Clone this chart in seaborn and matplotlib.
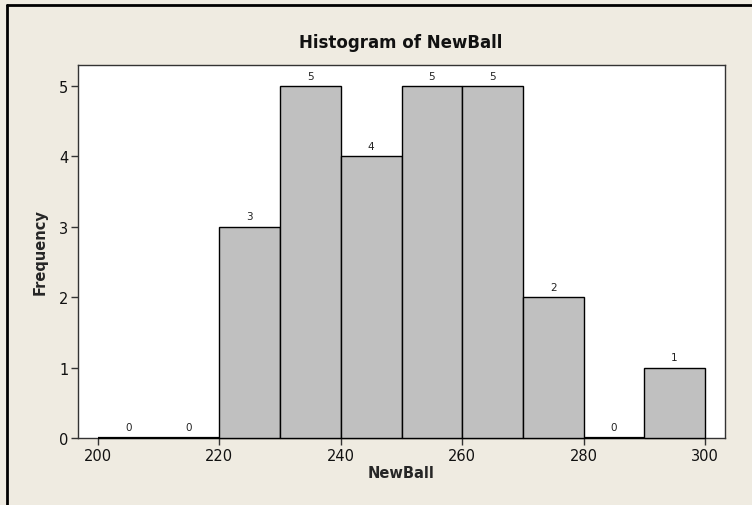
import numpy as np
import pandas as pd
import matplotlib
matplotlib.use("Agg")
import matplotlib.pyplot as plt
import seaborn as sns

# bin edges and counts
bin_edges = [200, 210, 220, 230, 240, 250, 260, 270, 280, 290, 300]
counts = [0, 0, 3, 5, 4, 5, 5, 2, 0, 1]
x_ticks = [200, 220, 240, 260, 280, 300]
y_ticks = [0, 1, 2, 3, 4, 5]

bg = "#EFEBE1"
bar_color = "#C0C0C0"

sns.set_theme(style="white")
plt.rcParams["font.family"] = ["DejaVu Sans"]

mids = [(a + b) / 2 for a, b in zip(bin_edges[:-1], bin_edges[1:])]
df = pd.DataFrame({"NewBall": mids, "count": counts})

fig = plt.figure(figsize=(7.52, 5.06), dpi=100, facecolor=bg)
ax = fig.add_axes([78 / 752, 1 - 439 / 506, (725 - 78) / 752, (439 - 66) / 506])
ax.set_facecolor("white")

sns.histplot(data=df, x="NewBall", weights="count", bins=bin_edges,
             color=bar_color, alpha=1, edgecolor="black", linewidth=1.0, ax=ax)

# keep bar outlines above the spines so empty bins show a dark baseline
for p, c in zip(ax.containers[0], counts):
    p.set_zorder(3)
    p.set_clip_on(False)
    if c == 0:
        p.set_linewidth(1.6)

# count labels above each bar
ax.bar_label(ax.containers[0], labels=[str(c) for c in counts],
             padding=4, fontsize=7.5, color="#222222")

ax.set_xlim(196.7, 303.3)
ax.set_ylim(0, 5.3)
ax.set_xticks(x_ticks)
ax.set_yticks(y_ticks)
ax.tick_params(axis="both", direction="out", length=5, width=1, color="#333333",
               labelsize=10.5, labelcolor="#111111", bottom=True, left=True, pad=2)
for s in ax.spines.values():
    s.set_color("#333333")
    s.set_linewidth(1.0)

ax.set_xlabel("NewBall", fontsize=10.5, fontweight="bold", labelpad=2)
ax.set_ylabel("Frequency", fontsize=10.5, fontweight="bold", labelpad=8)
fig.text(401 / 752, 1 - 43 / 506, "Histogram of NewBall", ha="center", va="center",
         fontsize=12, fontweight="bold", color="#111111")

# outer frame (left and top edges visible in the reference)
fig.add_artist(plt.Line2D([7 / 752, 7 / 752], [0, 1 - 6 / 506], color="black",
                          lw=2, transform=fig.transFigure))
fig.add_artist(plt.Line2D([7 / 752, 1], [1 - 6 / 506, 1 - 6 / 506], color="black",
                          lw=2, transform=fig.transFigure))

fig.savefig("out.png", dpi=100, facecolor=bg)
